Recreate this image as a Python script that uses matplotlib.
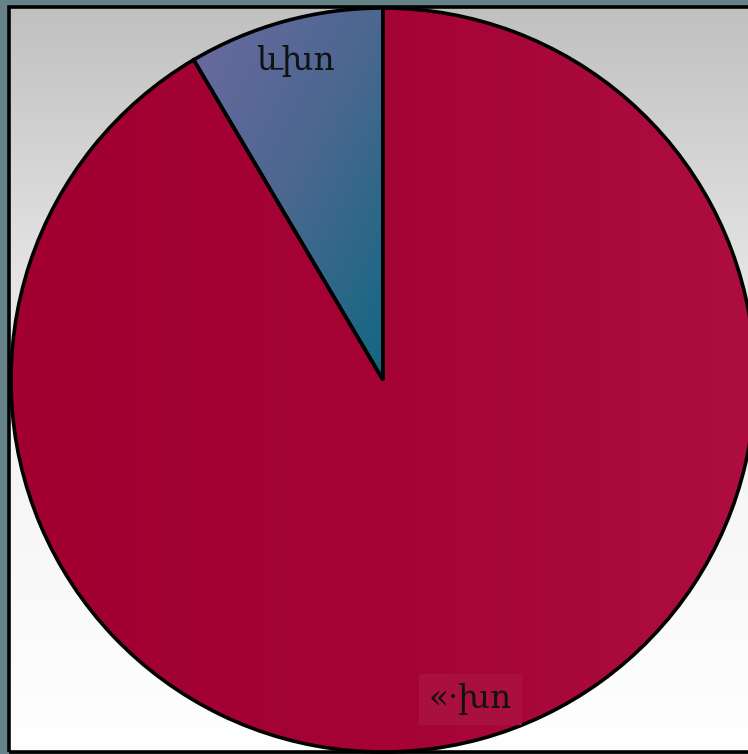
import numpy as np
import matplotlib
matplotlib.use("Agg")
import matplotlib.pyplot as plt
from matplotlib.colors import LinearSegmentedColormap
from matplotlib.patches import Rectangle

labels = ["ևխո", "«·խո"]
values = [8.5, 91.5]

W, H = 748, 754
fig = plt.figure(figsize=(W / 100, H / 100), dpi=100)
fig.patch.set_facecolor("#67838a")
ax = fig.add_axes([0, 0, 1, 1])
ax.set_xlim(0, W)
ax.set_ylim(0, H)
ax.axis("off")

# background panel with vertical gradient
x0, x1 = 9, 770
y0, y1 = H - 752, H - 6.5
bg = LinearSegmentedColormap.from_list("bg", ["#ffffff", "#f2f2f2", "#c0c0c0"])
grad = np.linspace(0, 1, 256).reshape(-1, 1)
ax.imshow(grad, extent=[x0, x1, y0, y1], origin="lower", cmap=bg, aspect="auto", zorder=0)
ax.add_patch(Rectangle((x0, y0), x1 - x0, y1 - y0, fill=False, edgecolor="black", lw=2.6, zorder=1))

cx, cy, r = 383, H - 380, 372
wedges, texts = ax.pie(values, labels=labels, startangle=90, counterclock=True,
                       center=(cx, cy), radius=r, labeldistance=0.89,
                       wedgeprops=dict(edgecolor="black", linewidth=2.6),
                       textprops=dict(fontsize=23.5, family=["DejaVu Serif", "DejaVu Sans"],
                                      color="#111111", ha="center", va="center"),
                       frame=True)
ax.set_xlim(0, W)
ax.set_ylim(0, H)
ax.set_aspect("auto")
ax.axis("off")

# gradient fills, each spanning its wedge's own bounding box
small_cmap = LinearSegmentedColormap.from_list("s", ["#6c6aa0", "#4b6790", "#116782"])
big_cmap = LinearSegmentedColormap.from_list("b", ["#a10031", "#a50336", "#ad0d3f"])
xx, yy = np.meshgrid(np.linspace(0, 1, 200), np.linspace(0, 1, 200))
fig.canvas.draw()
for w, cmap, g in [(wedges[0], small_cmap, (xx + yy) / 2), (wedges[1], big_cmap, xx)]:
    bb = w.get_path().transformed(w.get_patch_transform()).get_extents()
    w.set_facecolor("none")
    w.set_zorder(3)
    im = ax.imshow(g, extent=[bb.x0, bb.x1, bb.y0, bb.y1], origin="upper",
                   cmap=cmap, aspect="auto", zorder=2)
    im.set_clip_path(w)

for t in texts:
    t.set_zorder(5)
texts[1].set_bbox(dict(facecolor="#a9103f", edgecolor="none", pad=7))

ax.set_xlim(0, W)
ax.set_ylim(0, H)
fig.savefig("out.png", dpi=100, facecolor=fig.get_facecolor())
